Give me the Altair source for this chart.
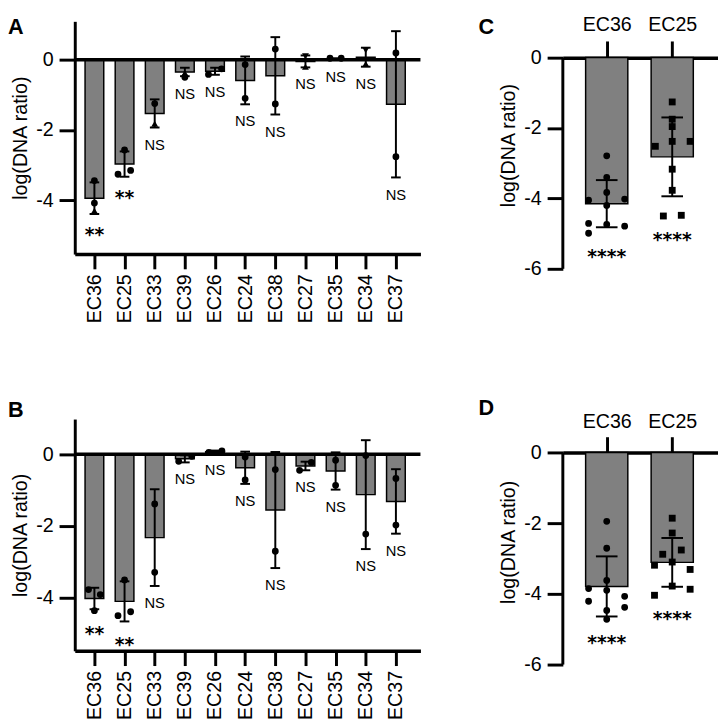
import altair as alt
import pandas as pd

FONT = "Liberation Sans"
STAR_FONT = "DejaVu Sans"

# ---------------- data ----------------
cats_ab = ["EC36", "EC25", "EC33", "EC39", "EC26", "EC24", "EC38", "EC27", "EC35", "EC34", "EC37"]
cats_cd = ["EC36", "EC25"]

# Panel A
mean_a = [-3.94, -2.97, -1.53, -0.35, -0.33, -0.59, -0.46, -0.05, 0.02, 0.07, -1.27]
sd_a = [0.45, 0.36, 0.40, 0.12, 0.10, 0.68, 1.10, 0.17, 0.02, 0.27, 2.08]
sig_a = ["**", "**", "NS", "NS", "NS", "NS", "NS", "NS", "NS", "NS", "NS"]
pts_a = [
    ("EC36", -3.44, "circle", 0.0), ("EC36", -4.08, "circle", 0.0), ("EC36", -4.30, "triangle-up", 0.0),
    ("EC25", -2.57, "circle", 0.0), ("EC25", -3.26, "circle", -0.7), ("EC25", -3.15, "circle", 0.65),
    ("EC33", -1.25, "circle", 0.0), ("EC33", -1.82, "triangle-up", 0.0),
    ("EC39", -0.38, "triangle-up", 0.0), ("EC39", -0.50, "circle", 0.0),
    ("EC26", -0.42, "circle", -0.7), ("EC26", -0.26, "circle", 0.7),
    ("EC24", -0.14, "circle", 0.0), ("EC24", -1.10, "circle", 0.0),
    ("EC38", 0.30, "circle", 0.0), ("EC38", -1.26, "circle", 0.0),
    ("EC27", 0.10, "triangle-down", 0.0), ("EC27", -0.20, "triangle-up", 0.0),
    ("EC35", 0.04, "circle", -0.6), ("EC35", 0.04, "circle", 0.6),
    ("EC34", 0.27, "triangle-down", 0.0), ("EC34", -0.12, "triangle-up", 0.0),
    ("EC37", 0.19, "circle", 0.0), ("EC37", -2.76, "circle", 0.0),
]

# Panel B
mean_b = [-4.03, -4.11, -2.33, -0.13, 0.07, -0.38, -1.56, -0.33, -0.47, -1.13, -1.32]
sd_b = [0.30, 0.56, 1.35, 0.10, 0.03, 0.45, 1.62, 0.12, 0.52, 1.52, 0.90]
sig_b = ["**", "**", "NS", "NS", "NS", "NS", "NS", "NS", "NS", "NS", "NS"]
pts_b = [
    ("EC36", -3.78, "circle", -0.63), ("EC36", -3.92, "circle", 0.63), ("EC36", -4.37, "circle", 0.0),
    ("EC25", -3.51, "circle", 0.0), ("EC25", -4.51, "circle", -0.7), ("EC25", -4.40, "circle", 0.65),
    ("EC33", -1.39, "circle", 0.0), ("EC33", -3.30, "circle", 0.0),
    ("EC39", -0.20, "circle", -0.66), ("EC39", -0.06, "circle", 0.74),
    ("EC26", 0.05, "circle", -0.66), ("EC26", 0.09, "circle", 0.74),
    ("EC24", -0.08, "circle", 0.0), ("EC24", -0.72, "circle", 0.0),
    ("EC38", -0.43, "circle", 0.0), ("EC38", -2.71, "circle", 0.0),
    ("EC27", -0.45, "circle", -0.63), ("EC27", -0.23, "circle", 0.63),
    ("EC35", -0.17, "circle", 0.0), ("EC35", -0.87, "circle", 0.0),
    ("EC34", -0.04, "circle", 0.0), ("EC34", -2.23, "circle", 0.0),
    ("EC37", -0.68, "circle", 0.0), ("EC37", -1.98, "circle", 0.0),
]

# Panel C
mean_c = [-4.15, -2.82]
sd_c = [0.67, 1.12]
sig_c = ["****", "****"]
pts_c = [
    ("EC36", -2.79, "circle", 0.0), ("EC36", -3.40, "circle", 0.0), ("EC36", -3.83, "circle", 0.0),
    ("EC36", -4.05, "circle", -0.86), ("EC36", -4.02, "circle", 0.85), ("EC36", -4.20, "circle", 0.0),
    ("EC36", -4.71, "circle", -0.86), ("EC36", -4.74, "circle", 0.0), ("EC36", -4.79, "circle", 0.85),
    ("EC36", -4.99, "circle", -0.86),
    ("EC25", -1.26, "square", 0.0), ("EC25", -1.75, "square", 0.0), ("EC25", -1.96, "square", 0.0),
    ("EC25", -2.52, "square", -0.8), ("EC25", -2.38, "square", 0.0), ("EC25", -2.38, "square", 0.85),
    ("EC25", -3.17, "square", 0.0), ("EC25", -3.77, "square", 0.0), ("EC25", -4.50, "square", -0.42),
    ("EC25", -4.48, "square", 0.43),
]

# Panel D
mean_d = [-3.79, -3.11]
sd_d = [0.85, 0.69]
sig_d = ["****", "****"]
pts_d = [
    ("EC36", -1.95, "circle", 0.0), ("EC36", -2.71, "circle", 0.0), ("EC36", -3.62, "circle", 0.0),
    ("EC36", -3.85, "circle", -0.86), ("EC36", -3.90, "circle", 0.0), ("EC36", -4.21, "circle", -0.86),
    ("EC36", -4.07, "circle", 0.85), ("EC36", -4.38, "circle", 0.85), ("EC36", -4.47, "circle", 0.0),
    ("EC36", -4.72, "circle", 0.0),
    ("EC25", -1.86, "square", 0.0), ("EC25", -2.28, "square", 0.0), ("EC25", -2.88, "square", -0.45),
    ("EC25", -2.76, "square", 0.43), ("EC25", -3.10, "square", 0.0), ("EC25", -3.19, "square", -0.84),
    ("EC25", -3.31, "square", 0.85), ("EC25", -3.78, "square", 0.0), ("EC25", -3.87, "square", 0.85),
    ("EC25", -4.04, "square", -0.84),
]


def panel(letter, letter_x, letter_y, cats, mean, sd, sig, pts, ydom, yvals,
          width, height, top, x_tick, x_pad, cap_half, xdom, bar_half,
          ns_dy, star_dy, zero_line, top_offset=0):
    idx = {c: i for i, c in enumerate(cats)}
    summ = pd.DataFrame({"cat": cats, "mean": mean, "sd": sd, "sig": sig})
    summ["i"] = [idx[c] for c in cats]
    summ["bl"] = summ["i"] - bar_half
    summ["br"] = summ["i"] + bar_half
    summ["cl"] = summ["i"] - cap_half
    summ["cr"] = summ["i"] + cap_half
    summ["zero"] = 0.0
    summ["lo"] = summ["mean"] - summ["sd"]
    summ["hi"] = summ["mean"] + summ["sd"]
    p = pd.DataFrame(pts, columns=["cat", "val", "shape", "jit"])
    p["xp"] = [idx[c] + j * bar_half for c, j in zip(p["cat"], p["jit"])]
    pmin = p.groupby("cat")["val"].min()
    summ["low"] = [min(lo, pmin.get(c, lo)) for c, lo in zip(summ["cat"], summ["lo"])]

    names = "[" + ",".join(f"'{c}'" for c in cats) + "]"
    xaxis = alt.Axis(
        orient="top" if top else "bottom", title=None, labelAngle=0 if top else -90,
        values=list(range(len(cats))), labelExpr=f"{names}[datum.value]",
        labelFont=FONT, labelFontSize=20, labelColor="black", labelPadding=x_pad,
        labelAlign="center" if top else "right", labelBaseline="bottom" if top else "middle",
        tickSize=x_tick, tickWidth=3, tickColor="black", offset=top_offset,
        domainWidth=3.5, domainColor="black", grid=False, labelOverlap=False, labelFlush=False,
    )
    yaxis = alt.Axis(
        values=yvals, title="log(DNA ratio)", titleFont=FONT, titleFontSize=20,
        titleFontWeight="normal", titleColor="black", titlePadding=5,
        labelFont=FONT, labelFontSize=20, labelColor="black", labelPadding=6,
        labelExpr="toString(datum.value)", labelFlush=False, labelOverlap=False,
        tickSize=16, tickWidth=3, tickColor="black",
        domain=not top, domainWidth=3, domainColor="black", grid=False,
    )
    xs = alt.Scale(domain=xdom, nice=False, zero=False)
    ys = alt.Scale(domain=ydom, nice=False, zero=False)

    def X(f):
        return alt.X(f"{f}:Q", scale=xs, axis=xaxis)

    def Y(f):
        return alt.Y(f"{f}:Q", scale=ys, axis=yaxis)

    layers = [
        alt.Chart(summ).mark_bar(fill="#808080", stroke="black", strokeWidth=1.5).encode(
            x=X("bl"), x2=alt.X2("br:Q"), y=Y("mean"), y2=alt.Y2("zero:Q"))
    ]
    if zero_line:
        layers.append(
            alt.Chart(pd.DataFrame({"z": [0.0]})).mark_rule(color="black", strokeWidth=3.5)
            .encode(y=Y("z"))
        )
    if top:
        # vertical axis line only over the labelled range (0 to the lowest tick)
        layers.append(
            alt.Chart(pd.DataFrame({"y0": [min(yvals)], "y1": [max(yvals)]})).mark_rule(
                color="black", strokeWidth=3
            ).encode(x=alt.value(0), y=Y("y0"), y2=alt.Y2("y1:Q"))
        )
    layers.append(
        alt.Chart(summ).mark_rule(color="black", strokeWidth=2).encode(
            x=X("i"), y=Y("lo"), y2=alt.Y2("hi:Q"))
    )
    for fld in ["lo", "hi"]:
        layers.append(
            alt.Chart(summ).mark_rule(color="black", strokeWidth=2).encode(
                x=X("cl"), x2=alt.X2("cr:Q"), y=Y(fld))
        )
    layers.append(
        alt.Chart(p).mark_point(filled=True, color="black", opacity=1, strokeWidth=0).encode(
            x=X("xp"),
            y=Y("val"),
            shape=alt.Shape("shape:N", scale=None),
            size=alt.Size("shape:N", legend=None, scale=alt.Scale(
                domain=["circle", "square", "triangle-up", "triangle-down"],
                range=[48, 50, 55, 55])),
        )
    )
    if "NS" in sig:
        layers.append(
            alt.Chart(summ).transform_filter(alt.datum.sig == "NS").mark_text(
                font=FONT, fontSize=15, color="black", baseline="middle", dy=ns_dy
            ).encode(x=X("i"), y=Y("low"), text="sig:N")
        )
    layers.append(
        alt.Chart(summ).transform_filter(alt.datum.sig != "NS").mark_text(
            font=STAR_FONT, fontSize=19, fontWeight="bold", color="black", baseline="middle", dy=star_dy
        ).encode(x=X("i"), y=Y("low"), text="sig:N")
    )
    layers.append(
        alt.Chart(pd.DataFrame({"t": [letter]})).mark_text(
            font=FONT, fontSize=22, fontWeight="bold", align="left", baseline="top", color="black"
        ).encode(text="t:N", x=alt.value(letter_x), y=alt.value(letter_y))
    )
    return alt.layer(*layers).properties(width=width, height=height)


pA = panel("A", -68, -4.4, cats_ab, mean_a, sd_a, sig_a, pts_a, [-5.53, 1.09], [0, -2, -4],
           352, 237, False, 15, 5, 0.16, [-0.651, 10.814], 0.31, 17.5, 21.7, True)
pB = panel("B", -68, -18.6, cats_ab, mean_b, sd_b, sig_b, pts_b, [-5.49, 0.98], [0, -2, -4],
           352, 236, False, 15, 5, 0.16, [-0.651, 10.814], 0.31, 17.5, 23.7, True)
pC = panel("C", -86, -4.4, cats_cd, mean_c, sd_c, sig_c, pts_c, [-6, 1.03], [0, -2, -4, -6],
           158, 252, True, 17, 7, 0.165, [-0.67, 1.699], 0.322, 17.5, 24.7, False, top_offset=-37)
pD = panel("D", -86, -21.6, cats_cd, mean_d, sd_d, sig_d, pts_d, [-6, 0.944], [0, -2, -4, -6],
           158, 250, True, 16, 5, 0.165, [-0.67, 1.699], 0.322, 17.5, 24.7, False, top_offset=-34)

row1 = alt.hconcat(pA, pC, spacing=57)
row2 = alt.hconcat(pB, pD, spacing=57)
chart = alt.vconcat(row1, row2, spacing=74).properties(
    padding=0, background="white"
).configure_view(stroke=None)

chart.save("out.html", embed_options={"renderer": "svg", "actions": False})
